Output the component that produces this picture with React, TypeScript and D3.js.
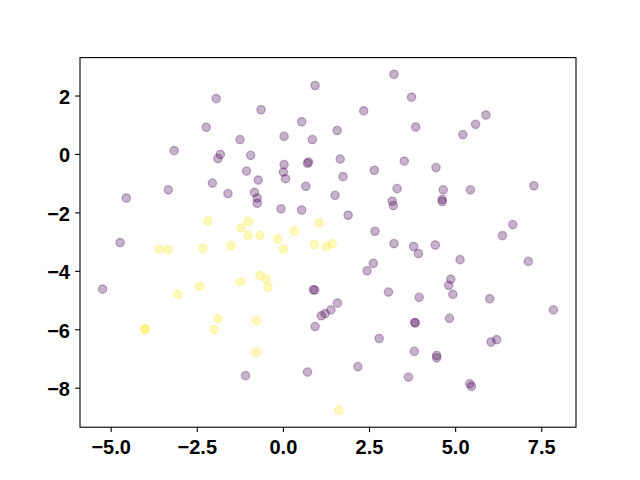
import React from "react";
import * as d3 from "d3";

// class 0 (purple) points
const purpleX = [
  -1.95, -2.24, -1.26, -3.17, -1.83, -1.9, -0.95, -1.07, -2.06, -3.34, -1.61, -4.56, -4.74,
  3.21, 0.92, 3.72, -0.65, 2.33, 0.53, 3.84, 0.02, 0.84, 1.56, 0.02, 0.73, 0.7, 1.65, 3.51,
  0.0, 0.06, -0.73, 2.64, 1.73, 0.65, 3.3, -0.84, -0.76, -0.76, 1.5, 3.16, 3.19, -0.07, 0.53,
  1.88, 2.66, 3.21, 3.78, 5.88, 5.58, 5.21, 4.43, 4.64, 5.43, 7.27, 4.61, 4.61, 6.66, 6.36,
  -5.25, -1.1, 2.61, 2.43, 0.87, 0.91, 3.05, 1.57, 1.38, 1.21, 1.1, 0.92, 2.78, 0.7, 2.16,
  3.63, 3.81, 3.83, 3.8, 3.92, 4.41, 5.13, 7.11, 4.86, 4.8, 4.92, 3.94, 5.99, 7.84, 4.82,
  6.19, 6.03, 4.45, 4.45, 5.41, 5.46,
];
const purpleY = [
  1.91, 0.93, 0.51, 0.13, 0.0, -0.14, -0.03, -0.57, -0.98, -1.21, -1.34, -1.49, -3.02,
  2.74, 2.36, 1.96, 1.53, 1.49, 1.12, 0.94, 0.62, 0.51, 0.82, -0.35, -0.26, -0.3, -0.16, -0.23,
  -0.6, -0.83, -0.88, -0.54, -0.76, -1.09, -1.17, -1.3, -1.49, -1.67, -1.4, -1.6, -1.75, -1.86, -1.9,
  -2.08, -2.63, -3.05, -3.15, 1.35, 1.03, 0.68, -0.45, -1.21, -1.21, -1.07, -1.54, -1.61, -2.4, -2.78,
  -4.61, -7.57, -3.73, -3.98, -4.63, -4.64, -4.71, -5.09, -5.32, -5.45, -5.52, -5.89, -6.3, -7.45, -7.26,
  -7.62, -5.75, -5.77, -6.74, -3.39, -3.1, -3.6, -3.66, -4.27, -4.48, -4.79, -4.89, -4.94, -5.32, -5.61,
  -6.34, -6.42, -6.88, -6.96, -7.85, -7.94,
];

// class 1 (yellow) points
const yellowX = [
  -2.19, -1.23, -1.02, -1.02, -0.68, -0.16, 0.32, 1.04, -3.6, -3.35, -2.34, -1.52, -1.25, -2.43,
  -3.06, -1.9, -2.01, -4.02, -4.01, 0.0, 0.9, 1.25, 1.42, -0.68, -0.5, -0.45, -0.78, -0.79, 1.61,
];
const yellowY = [
  -2.28, -2.51, -2.29, -2.77, -2.77, -2.9, -2.62, -2.34, -3.24, -3.26, -3.21, -3.12, -4.36, -4.51,
  -4.79, -5.62, -5.99, -5.97, -5.98, -3.24, -3.09, -3.15, -3.05, -4.14, -4.27, -4.55, -5.69, -6.77, -8.76,
];

const xTicks = [-5, -2.5, 0, 2.5, 5, 7.5];
const yTicks = [-8, -6, -4, -2, 0, 2];

const width = 640;
const height = 480;
const margin = { top: 57.6, right: 64, bottom: 52.8, left: 80 };

const fmt = (v: number, digits: number) => v.toFixed(digits).replace("-", "\u2212");

const pad = (ext: [number, number]) => {
  const span = ext[1] - ext[0];
  return [ext[0] - span * 0.05, ext[1] + span * 0.05];
};

export default function App() {
  const allX = [...purpleX, ...yellowX];
  const allY = [...purpleY, ...yellowY];

  const x = d3
    .scaleLinear()
    .domain(pad(d3.extent(allX) as [number, number]))
    .range([margin.left, width - margin.right]);
  const y = d3
    .scaleLinear()
    .domain(pad(d3.extent(allY) as [number, number]))
    .range([height - margin.bottom, margin.top]);

  const points = [
    ...purpleX.map((v, i) => ({ x: v, y: purpleY[i], c: "#440154" })),
    ...yellowX.map((v, i) => ({ x: v, y: yellowY[i], c: "#fde725" })),
  ];

  const x0 = margin.left;
  const x1 = width - margin.right;
  const y0 = height - margin.bottom;
  const y1 = margin.top;
  const font = "'Liberation Sans', Arial, sans-serif";

  return (
    <svg
      width={width}
      height={height}
      style={{ position: "absolute", left: 0, top: 0, background: "#fff" }}
    >
      <g>
        {points.map((p, i) => (
          <circle
            key={i}
            cx={x(p.x)}
            cy={y(p.y)}
            r={4.17}
            fill={p.c}
            fillOpacity={0.3}
            stroke={p.c}
            strokeOpacity={0.3}
            strokeWidth={1.3}
          />
        ))}
      </g>
      <rect
        x={x0}
        y={y1}
        width={x1 - x0}
        height={y0 - y1}
        fill="none"
        stroke="#000"
        strokeWidth={1.1}
      />
      <g fontFamily={font} fontWeight="bold" fontSize={20} fill="#000">
        {xTicks.map((t) => (
          <g key={"x" + t}>
            <line x1={x(t)} x2={x(t)} y1={y0} y2={y0 + 4.9} stroke="#000" strokeWidth={1.1} />
            <text x={x(t)} y={y0 + 27} textAnchor="middle">
              {fmt(t, 1)}
            </text>
          </g>
        ))}
        {yTicks.map((t) => (
          <g key={"y" + t}>
            <line x1={x0 - 4.9} x2={x0} y1={y(t)} y2={y(t)} stroke="#000" strokeWidth={1.1} />
            <text x={x0 - 10} y={y(t) + 8} textAnchor="end">
              {fmt(t, 0)}
            </text>
          </g>
        ))}
      </g>
    </svg>
  );
}
